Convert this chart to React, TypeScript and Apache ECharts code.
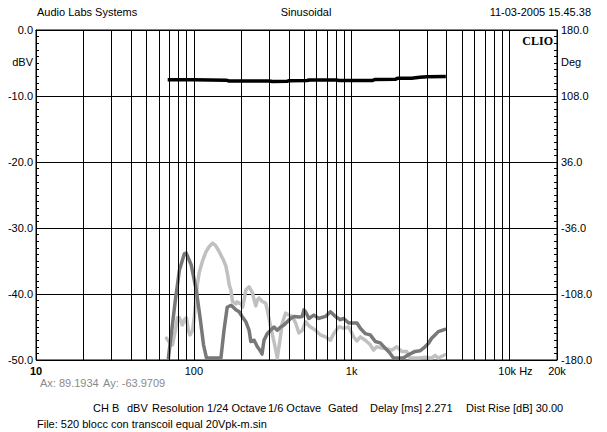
import React, { useEffect, useRef } from "react";
import * as echarts from "echarts";

// Fundamental (black) – dBV
const fundFreq = [68.3, 100, 160, 167, 300, 315, 390, 400, 520, 540, 800, 830, 1350, 1400, 1900, 1950, 2400, 2700, 3000, 3950];
const fundDb = [-7.55, -7.55, -7.6, -7.72, -7.72, -7.8, -7.78, -7.68, -7.66, -7.58, -7.58, -7.66, -7.66, -7.5, -7.45, -7.32, -7.3, -7.15, -7.08, -7.06];

// Dark grey harmonic curve
const darkFreq = [69, 76.4, 81, 87.1, 89.5, 96.3, 103.6, 110, 115.2, 120.3, 148.5, 155.3, 162.7, 172.3, 184.6, 193.7, 202.3, 213.5, 224, 229.6, 241, 252.7, 265.5, 270.5, 278.4, 292.1, 307, 322, 337.9, 355, 372.4, 390.7, 410, 430.7, 463, 485.8, 498, 510.5, 535.6, 575.9, 619.3, 682.6, 733.9, 789.3, 848.6, 890, 957, 1029, 1080, 1135, 1220, 1312, 1411, 1517, 1632, 1754, 1841, 2129, 2288, 2523, 2710, 2917, 3061, 3211, 3374, 3539, 3902];
const darkDb = [-49.7, -40.9, -36.4, -33.9, -33.8, -35.6, -39.4, -43.9, -47.7, -49.7, -49.7, -45.5, -42.0, -41.7, -42.4, -42.7, -43.4, -44.2, -45.5, -47.2, -47.0, -48.0, -48.7, -49.1, -47.0, -46.0, -45.5, -45.0, -45.5, -45.0, -44.7, -44.2, -43.7, -43.4, -43.5, -43.4, -42.4, -42.7, -43.7, -43.2, -43.7, -43.4, -42.7, -43.4, -43.9, -43.7, -44.4, -44.4, -44.4, -45.2, -46.0, -46.2, -47.2, -47.4, -48.2, -49.0, -49.7, -49.7, -49.2, -48.7, -48.6, -48.0, -47.5, -46.7, -46.2, -45.7, -45.35];

// Light grey harmonic curve
const lightFreq = [67.1, 70, 73.2, 76.4, 78.7, 81, 84.6, 87.1, 89.7, 92.3, 94.6, 98.2, 101, 105.2, 108.3, 113.1, 119.4, 125.3, 131.4, 136.7, 142.6, 148.5, 153.6, 159.7, 163.8, 167.5, 171.7, 175.7, 184.6, 188.1, 193.7, 199.4, 203.8, 208.3, 213.5, 224, 235, 241, 246.9, 252.7, 259, 270.5, 285.4, 292.1, 307, 322, 337.9, 351.3, 363.4, 381.7, 400.5, 420.2, 441.5, 463.1, 485.8, 510.5, 535.6, 549, 590, 634.7, 682.6, 733.9, 769.9, 827.9, 848.6, 890, 957, 1029, 1080, 1135, 1220, 1312, 1377, 1444, 1553, 1663, 1796, 1931, 2077, 2234, 2346, 2647, 2917, 3211, 3374, 3539, 3902];
const lightDb = [-46.7, -47.3, -47.7, -45.5, -43.6, -43.6, -44.7, -43.9, -43.6, -45.5, -46.2, -45.5, -43.2, -38.6, -36.7, -35.1, -33.6, -32.8, -32.3, -32.6, -33.3, -34.1, -34.8, -35.8, -37.1, -38.6, -39.4, -41.1, -41.5, -41.2, -41.4, -41.5, -42.0, -40.9, -39.4, -38.9, -39.8, -40.9, -41.8, -40.9, -40.6, -41.1, -41.4, -42.4, -45.0, -47.2, -49.7, -47.0, -44.4, -42.9, -43.2, -43.4, -44.4, -45.9, -45.5, -44.2, -44.8, -45.0, -45.5, -46.2, -46.5, -47.0, -46.0, -45.0, -45.0, -45.2, -45.0, -46.5, -47.1, -46.5, -47.0, -47.7, -48.5, -48.0, -48.2, -48.3, -48.5, -48.0, -48.7, -48.7, -49.7, -49.7, -49.6, -49.7, -49.3, -49.7, -49.2];

// Vertical grid frequencies
const gridFreqs = [20, 30, 40, 50, 60, 70, 80, 90, 100, 200, 300, 400, 500, 600, 700, 800, 900, 1000, 2000, 3000, 4000, 5000, 6000, 7000, 8000, 9000, 10000];

// Axis label texts
const xTickValues = [10, 100, 1000, 10000, 20000];
const xTickLabels = ["10", "100", "1k", "10k Hz", "20k"];
const degPerDb = 7.2; // right axis: -50 dB -> -180 deg, 0 dB -> 180 deg

const headerLeft = "Audio Labs Systems";
const headerCenter = "Sinusoidal";
const headerRight = "11-03-2005 15.45.38";
const cursorTexts = ["Ax: 89.1934", "Ay: -63.9709"];
const infoTexts = ["CH B", "dBV", "Resolution 1/24 Octave", "1/6 Octave", "Gated", "Delay [ms] 2.271", "Dist Rise [dB] 30.00"];
const fileText = "File: 520 blocc con transcoil equal 20Vpk-m.sin";

const FONT = "'Liberation Sans', Arial, sans-serif";

export default function App() {
  const ref = useRef<HTMLDivElement>(null);
  useEffect(() => {
    if (!ref.current) return;
    const chart = echarts.init(ref.current, undefined, { renderer: "svg" });
    const pair = (f: number[], d: number[]) => f.map((x, i) => [x, d[i]]);
    const infoX = [93, 127, 152, 268, 328, 370, 466];
    const cursorX = [40, 103];
    const txt = (x: number, y: number, text: string, extra: any = {}) => ({
      type: "text",
      x,
      y,
      style: { text, fill: "#000", font: `11px ${FONT}`, textVerticalAlign: "middle", ...extra },
      silent: true,
    });
    chart.setOption({
      animation: false,
      backgroundColor: "#fff",
      grid: { left: 36, right: 50, top: 30, bottom: 72, show: true, borderColor: "#000", borderWidth: 1 },
      xAxis: {
        type: "log",
        logBase: 10,
        min: 10,
        max: 20000,
        axisLine: { show: true, lineStyle: { color: "#000", width: 1 } },
        axisTick: { show: false },
        splitLine: { show: false },
        axisLabel: {
          color: "#000",
          fontFamily: FONT,
          fontSize: 11,
          margin: 5,
          formatter: (v: number) => {
            const i = xTickValues.findIndex((t) => Math.abs(t - v) / t < 1e-6);
            if (i < 0) return "";
            if (i === 0) return `{b|${xTickLabels[i]}}`;
            if (i === 3) return `{h|${xTickLabels[i]}}`;
            return xTickLabels[i];
          },
          rich: {
            b: { fontWeight: "bold", fontFamily: FONT, fontSize: 11, color: "#000" },
            h: { fontFamily: FONT, fontSize: 11, color: "#000", padding: [0, 0, 0, 12] },
          },
        },
      },
      yAxis: [
        {
          type: "value",
          min: -50,
          max: 0,
          interval: 10,
          axisLine: { show: true, lineStyle: { color: "#000" } },
          axisTick: { show: true, inside: true, length: 4, lineStyle: { color: "#000" } },
          minorTick: { show: true, splitNumber: 10, length: 3, lineStyle: { color: "#000" } },
          splitLine: { show: true, lineStyle: { color: "#000", width: 1 } },
          axisLabel: { color: "#000", fontFamily: FONT, fontSize: 11, margin: 3, formatter: (v: number) => v.toFixed(1) },
        },
        {
          type: "value",
          position: "right",
          min: -50,
          max: 0,
          interval: 10,
          axisLine: { show: true, lineStyle: { color: "#000" } },
          axisTick: { show: true, inside: true, length: 4, lineStyle: { color: "#000" } },
          minorTick: { show: true, splitNumber: 10, length: 3, lineStyle: { color: "#000" } },
          splitLine: { show: false },
          axisLabel: {
            color: "#000",
            fontFamily: FONT,
            fontSize: 11,
            margin: 4,
            formatter: (v: number) => ((v + 25) * degPerDb).toFixed(1),
          },
        },
      ],
      series: [
        {
          type: "line",
          data: [],
          z: 1,
          silent: true,
          markLine: {
            silent: true,
            symbol: ["none", "none"],
            label: { show: false },
            lineStyle: { color: "#000", width: 1, type: "solid" },
            data: gridFreqs.map((f) => ({ xAxis: f })),
          },
        },
        {
          type: "line",
          data: pair(lightFreq, lightDb),
          showSymbol: false,
          lineStyle: { color: "#c0c0c0", width: 3.5, join: "round", cap: "round" },
          z: 3,
        },
        {
          type: "line",
          data: pair(darkFreq, darkDb),
          showSymbol: false,
          lineStyle: { color: "#787878", width: 3.5, join: "round", cap: "round" },
          z: 4,
        },
        {
          type: "line",
          data: pair(fundFreq, fundDb),
          showSymbol: false,
          lineStyle: { color: "#000", width: 3.5, join: "round" },
          z: 5,
        },
      ],
      graphic: [
        txt(37, 12, headerLeft),
        txt(306, 12, headerCenter, { textAlign: "center" }),
        txt(591, 12, headerRight, { textAlign: "right" }),
        txt(33, 62, "dBV", { textAlign: "right" }),
        txt(561, 62, "Deg"),
        txt(553, 41, "CLIO", { textAlign: "right", font: `bold 12px 'Liberation Serif', 'DejaVu Serif', serif` }),
        ...cursorTexts.map((t, i) => txt(cursorX[i], 383, t, { fill: "#8a8a8a" })),
        ...infoTexts.map((t, i) => txt(infoX[i], 408, t)),
        txt(37, 424, fileText),
      ],
    });
    return () => chart.dispose();
  }, []);
  return <div ref={ref} style={{ width: 607, height: 432, position: "absolute", left: 0, top: 0 }} />;
}
